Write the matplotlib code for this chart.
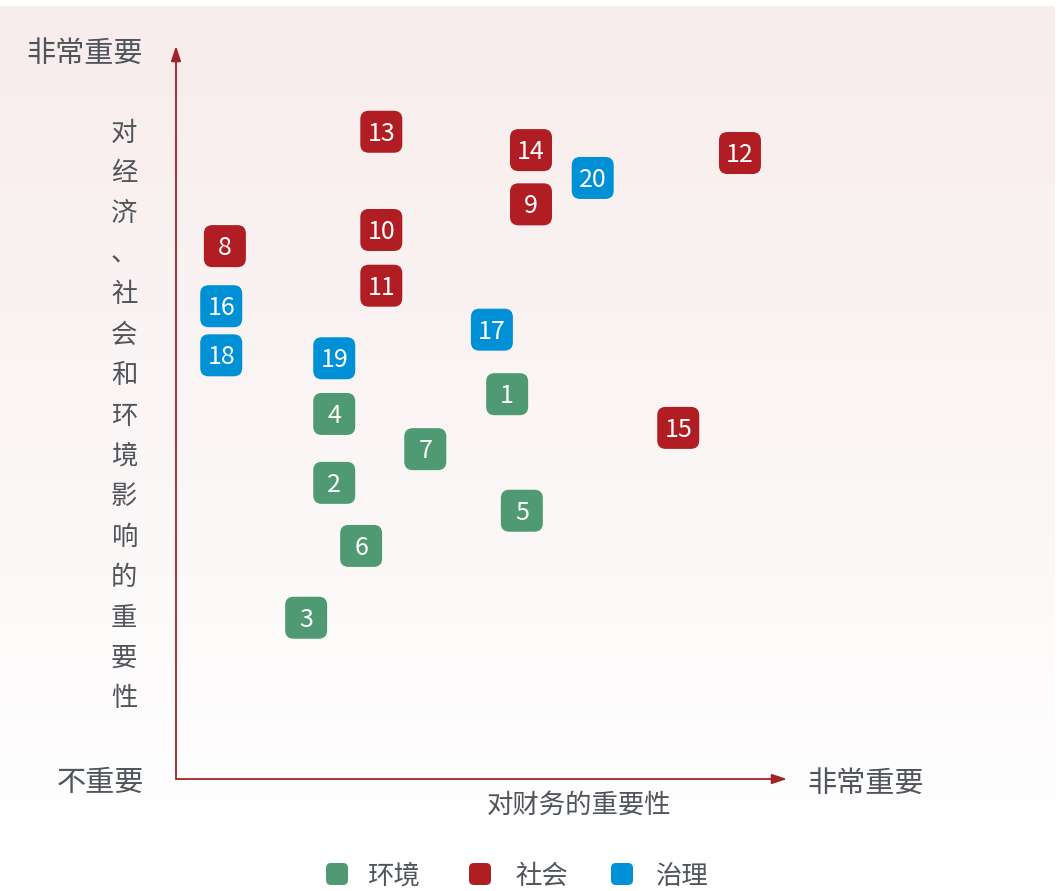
import matplotlib
matplotlib.use("Agg")
import matplotlib.pyplot as plt
import matplotlib.transforms as mtransforms
from matplotlib.patches import FancyBboxPatch
import numpy as np

plt.rcParams['font.family'] = ['Noto Sans CJK SC', 'DejaVu Sans']

# ---- data ----
ids = [1, 2, 3, 4, 5, 6, 7, 8, 9, 10, 11, 12, 13, 14, 15, 16, 17, 18, 19, 20]
financial = [54.2, 25.9, 21.3, 25.9, 56.6, 30.3, 40.8, 8.0, 58.1, 33.6,
             33.6, 92.3, 33.6, 58.1, 82.2, 7.4, 51.7, 7.4, 25.9, 68.2]
impact = [52.5, 40.4, 22.0, 49.8, 36.6, 31.8, 45.0, 72.7, 78.4, 74.9,
          67.3, 85.4, 88.3, 85.8, 47.9, 64.5, 61.3, 57.8, 57.4, 82.0]
category = ['环境', '环境', '环境', '环境', '环境', '环境', '环境', '社会', '社会', '社会',
            '社会', '社会', '社会', '社会', '社会', '治理', '治理', '治理', '治理', '治理']
categories = ['环境', '社会', '治理']
colors = {'环境': '#4f9a73', '社会': '#b01e24', '治理': '#0090d6'}

y_axis_label = '对经济、社会和环境影响的重要性'
x_axis_label = '对财务的重要性'
high_label = '非常重要'
low_label = '不重要'

W, H = 1064, 891
fig = plt.figure(figsize=(W / 100, H / 100), dpi=100)
fig.patch.set_facecolor('white')

# gradient background
bg = fig.add_axes([0, (H - 842) / H, 1055 / W, (842 - 6) / H])
bg.set_axis_off()
top = np.array([248, 236, 236]) / 255
bot = np.array([255, 255, 255]) / 255
t = np.linspace(0, 1, 256)[:, None]
grad = top[None, :] * (1 - t) + bot[None, :] * t
bg.imshow(grad[:, None, :], aspect='auto', extent=[0, 1, 0, 1])

# main axes
x0, y0, x1, y1 = 176, 779, 787, 46
ax = fig.add_axes([x0 / W, (H - y0) / H, (x1 - x0) / W, (y0 - y1) / H])
ax.set_xlim(0, 100)
ax.set_ylim(0, 100)
ax.patch.set_alpha(0)
for s in ax.spines.values():
    s.set_visible(False)
ax.set_xticks([])
ax.set_yticks([])

axis_color = '#a3222a'
ax.annotate('', xy=(0, 1.0), xytext=(0, 0), xycoords='axes fraction',
            arrowprops=dict(arrowstyle='-|>,head_length=0.9,head_width=0.3',
                            color=axis_color, lw=1.3, shrinkA=0, shrinkB=0), annotation_clip=False)
ax.annotate('', xy=(1.0, 0), xytext=(0, 0), xycoords='axes fraction',
            arrowprops=dict(arrowstyle='-|>,head_length=0.9,head_width=0.3',
                            color=axis_color, lw=1.3, shrinkA=0, shrinkB=0), annotation_clip=False)

txt_color = '#50555b'
dy = 2  # px shift down for CJK text centering


def ftext(px, py, s, **kw):
    fig.text(px / W, 1 - (py + dy) / H, s, va='center', color=txt_color, **kw)


ftext(85, 52, high_label, ha='center', fontsize=21)
ftext(100, 781, low_label, ha='center', fontsize=21)
ftext(866, 782, high_label, ha='center', fontsize=21)
ftext(579, 803, x_axis_label, ha='center', fontsize=19)

n = len(y_axis_label)
for i, ch in enumerate(y_axis_label):
    yy = 131 + i * (697 - 131) / (n - 1)
    ftext(124, yy, ch, ha='center', fontsize=19)

# boxes
box = 0.42
num_off = mtransforms.ScaledTranslation(0, -2 / 100, fig.dpi_scale_trans)
for xi, yi, cid, cat in zip(financial, impact, ids, category):
    tr = fig.dpi_scale_trans + mtransforms.ScaledTranslation(xi, yi, ax.transData)
    p = FancyBboxPatch((-box / 2, -box / 2), box, box,
                       boxstyle='round,pad=0,rounding_size=0.085',
                       transform=tr, facecolor=colors[cat], edgecolor='none',
                       clip_on=False, zorder=3)
    ax.add_patch(p)
    ax.text(xi, yi, str(cid), ha='center', va='center', color='white',
            fontsize=18, transform=ax.transData + num_off, zorder=4)

# legend
leg_items = [(326, 367), (469, 515), (611, 656)]
for (sx, tx), cat in zip(leg_items, categories):
    lb = 0.22
    tr = fig.dpi_scale_trans + mtransforms.ScaledTranslation((sx + 11) / W, 1 - 874 / H, fig.transFigure)
    p = FancyBboxPatch((-lb / 2, -lb / 2), lb, lb, boxstyle='round,pad=0,rounding_size=0.05',
                       transform=tr, facecolor=colors[cat], edgecolor='none')
    fig.add_artist(p)
    ftext(tx, 874, cat, ha='left', fontsize=19)

fig.savefig('out.png', dpi=100, facecolor='white')
